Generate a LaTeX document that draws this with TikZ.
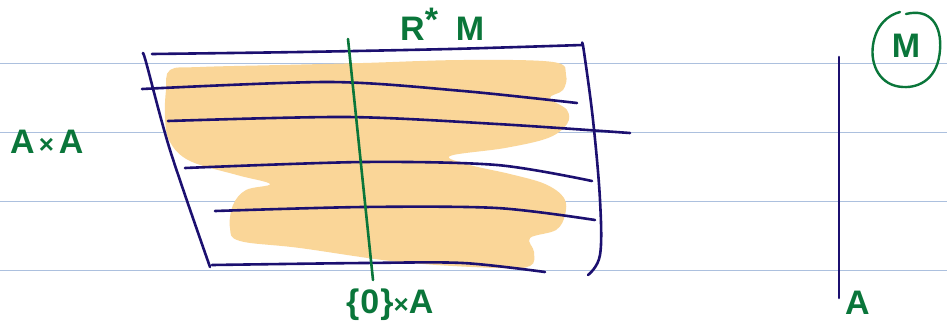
\documentclass[tikz,border=0pt]{standalone}
\usepackage{fontspec}
\setmainfont{Liberation Sans}
\definecolor{rule}{RGB}{172,192,222}
\definecolor{ink}{RGB}{28,16,112}
\definecolor{pen}{RGB}{10,118,58}
\definecolor{hl}{RGB}{250,214,152}
\tikzset{
  ruleline/.style={rule, line width=0.9pt},
  inkline/.style={ink, line width=2.6pt, line cap=round, line join=round},
  penline/.style={pen, line width=2.6pt, line cap=round},
  handtext/.style={pen, inner sep=0pt, font=\fontsize{34}{34}\selectfont\bfseries}
}
\begin{document}
\begin{tikzpicture}[x=1pt,y=-1pt]
\useasboundingbox (0,0) rectangle (947,325);
\fill[white] (0,0) rectangle (947,325);
% ruled lines
\foreach \yy in {63,132,201,270} \draw[ruleline] (0,\yy) -- (947,\yy);
% highlighter
\fill[hl] plot[smooth cycle, tension=0.6] coordinates {
 (170,70) (200,67) (280,65) (363,63) (463,60) (553,62) (566,75) (563,90) (550,98)
 (567,110) (567,124) (548,138) (505,148) (450,156) (470,165) (510,174) (545,184)
 (564,198) (565,215) (556,230) (530,238) (534,252) (530,266) (497,268) (400,262)
 (300,248) (240,241) (230,228) (233,205) (246,190) (270,184) (237,175) (190,161)
 (170,142) (165,118) (166,90)};
% sheet outline
\draw[inkline] plot[smooth, tension=0.5] coordinates {(152,54) (300,52) (450,49) (582,45)};
\draw[inkline] plot[smooth, tension=0.5] coordinates {(143,54) (146,62) (170,150) (210,267)};
\draw[inkline] plot[smooth, tension=0.6] coordinates {(582,43) (584,52) (593,120) (600,200) (600,255) (588,275)};
\draw[inkline] plot[smooth, tension=0.5] coordinates {(212,265) (363,263) (463,263) (545,272)};
% fibres
\draw[inkline] plot[smooth, tension=0.5] coordinates {(142,89) (330,82) (463,91) (577,103)};
\draw[inkline] plot[smooth, tension=0.5] coordinates {(168,121) (347,117) (497,124) (630,133)};
\draw[inkline] plot[smooth, tension=0.5] coordinates {(185,168) (363,162) (497,165) (592,181)};
\draw[inkline] plot[smooth, tension=0.5] coordinates {(215,211) (363,207) (497,208) (595,220)};
% green section
\coordinate (gtop) at (348,39);
\coordinate (gbot) at (373,280);
\draw[penline] (gtop) -- (gbot);
% base
\coordinate (btop) at (839,57);
\coordinate (bbot) at (839,298);
\draw[inkline] (btop) -- (bbot);
% labels
\node[handtext, anchor=base west] (rstar) at (400,40) {R\raisebox{9pt}{*}\hspace{18pt}M};
\node[handtext, anchor=base west] (axa) at (10,153) {A{\fontsize{26}{26}\selectfont\hspace{4pt}×\hspace{5pt}}A};
\node[handtext, anchor=base west] (zxa) at (346,313) {\{\hspace{1pt}0\hspace{1pt}\}{\fontsize{26}{26}\selectfont×}A};
\node[handtext, anchor=base west] (abase) at (845,314) {A};
\node[handtext] (mlab) at (906,46) {M};
\draw[pen, line width=2.4pt, line cap=round] (906,14) .. controls (930,8) and (942,25) .. (940,50)
  .. controls (938,78) and (920,88) .. (903,87)
  .. controls (880,86) and (870,65) .. (873,45)
  .. controls (876,25) and (888,15) .. (900,12);
\end{tikzpicture}
\end{document}
